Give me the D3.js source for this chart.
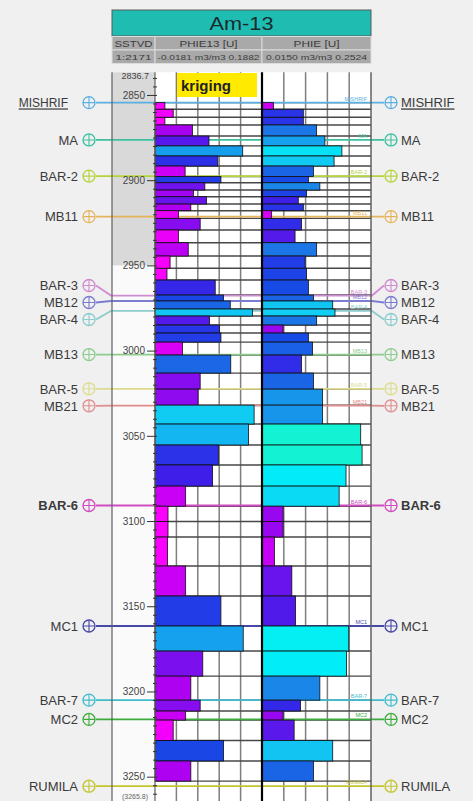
<!DOCTYPE html>
<html>
<head>
<meta charset="utf-8">
<script src="https://cdn.jsdelivr.net/npm/d3@7"></script>
<style>
  html, body { margin: 0; padding: 0; background: #f0f0f0; }
  svg { display: block; font-family: "Liberation Sans", Arial, sans-serif; }
</style>
</head>
<body>
<svg id="log" width="473" height="801"></svg>
<script>
// ---- data ----
const wellName = "Am-13";
const depthRange = [2836.7, 3265.8];
const depthTicks = [2850, 2900, 2950, 3000, 3050, 3100, 3150, 3200, 3250];

// zone boundaries (m, SSTVD) - one more than values
const zoneTops = [
  2854.5, 2858.4, 2863.1, 2867.6, 2874.1, 2879.9, 2885.8, 2891.7, 2897.8, 2901.5,
  2905.8, 2909.7, 2914.0, 2917.9, 2922.4, 2929.2, 2936.7, 2944.5, 2951.7, 2958.6,
  2967.4, 2970.9, 2975.6, 2979.7, 2985.0, 2989.7, 2995.0, 3002.6, 3013.2, 3022.6,
  3032.0, 3043.1, 3055.4, 3067.1, 3079.5, 3091.3, 3100.3, 3109.4, 3126.4, 3144.0,
  3161.6, 3176.3, 3191.0, 3205.1, 3211.5, 3216.8, 3228.8, 3240.8, 3252.6
];

// PHIE13 (kriging) per zone
const phie13 = [
  0.001, 0.017, 0.001, 0.054, 0.086, 0.151, 0.103, 0.040, 0.109, 0.078,
  0.056, 0.081, 0.051, 0.027, 0.069, 0.027, 0.046, 0.011, 0.005, 0.098,
  0.114, 0.127, 0.170, 0.087, 0.106, 0.109, 0.035, 0.128, 0.069, 0.065,
  0.173, 0.162, 0.104, 0.093, 0.041, 0.007, 0.007, 0.006, 0.041, 0.109,
  0.152, 0.074, 0.051, 0.069, 0.041, 0.017, 0.114, 0.051
];

// PHIE per zone
const phie = [
  0.040, 0.105, 0.105, 0.134, 0.152, 0.189, 0.172, 0.127, 0.116, 0.141,
  0.112, 0.094, 0.105, 0.036, 0.101, 0.087, 0.134, 0.109, 0.112, 0.116,
  0.127, 0.169, 0.174, 0.134, 0.061, 0.116, 0.125, 0.101, 0.127, 0.147,
  0.147, 0.230, 0.233, 0.198, 0.183, 0.061, 0.061, 0.042, 0.080, 0.088,
  0.204, 0.199, 0.141, 0.099, 0.061, 0.085, 0.169, 0.127
];

const phie13Range = [-0.0181, 0.1882];
const phieRange = [0.0150, 0.2524];

const markerNames = ["MISHRIF", "MA", "BAR-2", "MB11", "BAR-3", "MB12", "BAR-4", "MB13",
  "BAR-5", "MB21", "BAR-6", "MC1", "BAR-7", "MC2", "RUMILA"];
const markerDepths = [2854.5, 2876.4, 2897.6, 2921.4, 2967.7, 2970.9, 2976.7, 3002.3,
  3022.5, 3032.3, 3090.9, 3161.6, 3205.1, 3216.4, 3255.6];
const markerColors = ["#5ab0e0", "#3cc0a0", "#b4d43c", "#e6b45a", "#d08cd0", "#7c7cd0", "#8ccccc", "#8ccc8c",
  "#dcdc8c", "#e08c8c", "#d04cc0", "#4848a8", "#3cbccc", "#3cac3c", "#c4c42c"];

// ---- layout ----
const svg = d3.select("#log");
const X0 = 112, XD = 155, XM = 262, X1 = 371;
const yTop = 72.3, yBot = 803.6;

const y = d3.scaleLinear().domain(depthRange).range([yTop, yBot]);
const x13 = d3.scaleLinear().domain(phie13Range).range([XD, XM]);
const xPh = d3.scaleLinear().domain(phieRange).range([XM, X1]);

const colorOf = d3.scaleLinear()
  .domain([0, 0.03, 0.05, 0.075, 0.095, 0.115, 0.135, 0.155, 0.175, 0.2, 0.23])
  .range(["#ff00ff", "#e800f8", "#b000f2", "#7a10ee", "#3a20e8", "#1848e6",
          "#1c78e6", "#14a8ee", "#10d0f4", "#00eef8", "#14f2d4"])
  .clamp(true);

// ---- header ----
svg.append("rect").attr("x", X0).attr("y", 10).attr("width", X1 - X0).attr("height", 26)
  .attr("fill", "#1fbdb1").attr("stroke", "#5a5a5a");
svg.append("text").attr("x", (X0 + X1) / 2).attr("y", 29.5).attr("text-anchor", "middle")
  .attr("font-size", 17.5).attr("fill", "#1a2a30")
  .attr("textLength", 64).attr("lengthAdjust", "spacingAndGlyphs").text(wellName);

const hdrCols = [
  { x0: X0, x1: XD, t1: "SSTVD", t2: "1:2171", w1: 38, w2: 36 },
  { x0: XD, x1: XM, t1: "PHIE13 [U]", t2: "-0.0181 m3/m3 0.1882", w1: 58, w2: 102 },
  { x0: XM, x1: X1, t1: "PHIE [U]", t2: "0.0150 m3/m3 0.2524", w1: 46, w2: 101 }
];
hdrCols.forEach(c => {
  [[36.5, c.t1, 9.5, c.w1], [50, c.t2, 8, c.w2]].forEach(([yy, t, fs, w]) => {
    svg.append("rect").attr("x", c.x0).attr("y", yy).attr("width", c.x1 - c.x0).attr("height", 13.5)
      .attr("fill", "#a9a9a9").attr("stroke", "#dcdcdc").attr("stroke-width", 1);
    svg.append("text").attr("x", (c.x0 + c.x1) / 2).attr("y", yy + 10).attr("text-anchor", "middle")
      .attr("font-size", fs).attr("fill", "#3c3c3c")
      .attr("textLength", w).attr("lengthAdjust", "spacingAndGlyphs").text(t);
  });
});

// ---- track backgrounds ----
svg.append("rect").attr("x", X0).attr("y", yTop).attr("width", XD - X0).attr("height", yBot - yTop)
  .attr("fill", "#fafafa");
svg.append("rect").attr("x", X0).attr("y", yTop).attr("width", XD - X0).attr("height", y(2950) - yTop)
  .attr("fill", "#d9d9d9");
svg.append("rect").attr("x", XD).attr("y", yTop).attr("width", X1 - XD).attr("height", yBot - yTop)
  .attr("fill", "#ffffff");

// vertical grid
const grid = svg.append("g").attr("stroke", "#7e7e7e").attr("stroke-width", 1.5);
[x13, xPh].forEach(sc => {
  const [r0, r1] = sc.range();
  d3.range(1, 5).forEach(i => {
    const gx = r0 + (r1 - r0) * i / 5;
    grid.append("line").attr("x1", gx).attr("x2", gx).attr("y1", yTop).attr("y2", yBot);
  });
});

// zone boundary lines
svg.append("g").selectAll("line").data(zoneTops).join("line")
  .attr("x1", XD).attr("x2", X1)
  .attr("y1", d => y(d)).attr("y2", d => y(d))
  .attr("stroke", "#474747").attr("stroke-width", 1.4);

// ---- markers ----
const markers = markerNames.map((n, i) => ({ name: n, depth: markerDepths[i], color: markerColors[i], y: y(markerDepths[i]) }));
// spread labels that would overlap
const minGap = 17;
let groups = [];
markers.forEach(m => {
  const g = groups[groups.length - 1];
  if (g && m.y - g[g.length - 1].y < minGap) g.push(m); else groups.push([m]);
});
groups.forEach(g => {
  const mid = d3.mean(g, d => d.y);
  g.forEach((m, i) => { m.ly = mid + (i - (g.length - 1) / 2) * minGap; });
});

const mk = svg.append("g");
mk.selectAll("polyline").data(markers).join("polyline")
  .attr("points", d => [[96, d.ly], [X0 - 1, d.y], [X1 + 1, d.y], [384, d.ly]].map(p => p.join(",")).join(" "))
  .attr("fill", "none").attr("stroke", d => d.color).attr("stroke-width", 1.8);

// ---- bars ----
const zones = phie13.map((v, i) => ({ top: zoneTops[i], bot: zoneTops[i + 1], v13: v, vp: phie[i] }));
svg.append("g").selectAll("rect").data(zones).join("rect")
  .attr("x", XD).attr("y", d => y(d.top))
  .attr("width", d => x13(d.v13) - XD).attr("height", d => y(d.bot) - y(d.top))
  .attr("fill", d => colorOf(d.v13)).attr("stroke", "#111").attr("stroke-width", 0.8);
svg.append("g").selectAll("rect").data(zones).join("rect")
  .attr("x", XM).attr("y", d => y(d.top))
  .attr("width", d => xPh(d.vp) - XM).attr("height", d => y(d.bot) - y(d.top))
  .attr("fill", d => colorOf(d.vp)).attr("stroke", "#111").attr("stroke-width", 0.8);

// track borders
[[X0, "#606060", 1.2], [XD, "#606060", 1.2], [X1, "#606060", 1.5], [XM, "#000", 2.2]].forEach(([bx, c, w]) => {
  svg.append("line").attr("x1", bx).attr("x2", bx).attr("y1", yTop).attr("y2", yBot)
    .attr("stroke", c).attr("stroke-width", w);
});

// small in-track marker names
svg.append("g").selectAll("text").data(markers).join("text")
  .attr("x", X1 - 4).attr("y", d => d.y - 2).attr("text-anchor", "end")
  .attr("font-size", 5.5).attr("fill", d => d.color).text(d => d.name);

// marker symbols + labels
[[89, "end", 78], [391, "start", 401]].forEach(([cx, anchor, tx]) => {
  const g = mk.append("g");
  const s = g.selectAll("g").data(markers).join("g").attr("transform", d => `translate(${cx},${d.ly})`);
  s.append("circle").attr("r", 6).attr("fill", "none").attr("stroke", d => d.color).attr("stroke-width", 1.3);
  s.append("path").attr("d", "M-6,0H6M0,-6V6").attr("stroke", d => d.color).attr("stroke-width", 1.1);
  g.selectAll("text").data(markers).join("text")
    .attr("x", d => (d.name === "MISHRIF" && anchor === "end") ? tx - 10 : tx)
    .attr("y", d => d.ly + 4.8).attr("text-anchor", anchor)
    .attr("font-size", d => (d.name === "MISHRIF" && anchor === "end") ? 12 : 13)
    .attr("fill", "#3a3a3a")
    .attr("font-weight", d => d.name === "BAR-6" ? "bold" : null)
    .attr("text-decoration", d => d.name === "MISHRIF" ? "underline" : null)
    .text(d => d.name);
});

// ---- depth axis ----
const axMajor = svg.append("g").attr("transform", `translate(153,0)`)
  .call(d3.axisLeft(y).tickValues(depthTicks).tickSize(6).tickPadding(2).tickFormat(d3.format("d")));
axMajor.select(".domain").remove();
axMajor.selectAll("text").attr("font-size", 10).attr("fill", "#444").attr("font-family", "Liberation Sans, Arial, sans-serif");
axMajor.selectAll("line").attr("stroke", "#333");

const axMinor = svg.append("g").attr("transform", `translate(157,0)`)
  .call(d3.axisLeft(y).tickValues(d3.range(2840, 3266, 5)).tickSize(4).tickFormat(""));
axMinor.select(".domain").remove();
axMinor.selectAll("line").attr("stroke", "#333");

svg.append("text").attr("x", 149).attr("y", 79).attr("text-anchor", "end")
  .attr("font-size", 9).attr("fill", "#444").text(depthRange[0].toFixed(1));
svg.append("text").attr("x", 148).attr("y", 799).attr("text-anchor", "end")
  .attr("font-size", 7).attr("fill", "#666").text("(" + depthRange[1].toFixed(1) + ")");

// ---- kriging tag ----
svg.append("rect").attr("x", 177).attr("y", 73).attr("width", 80).attr("height", 24).attr("fill", "#ffea00");
svg.append("text").attr("x", 181).attr("y", 90.5).attr("font-size", 15).attr("font-weight", "bold")
  .attr("fill", "#222").text("kriging");
</script>
</body>
</html>
